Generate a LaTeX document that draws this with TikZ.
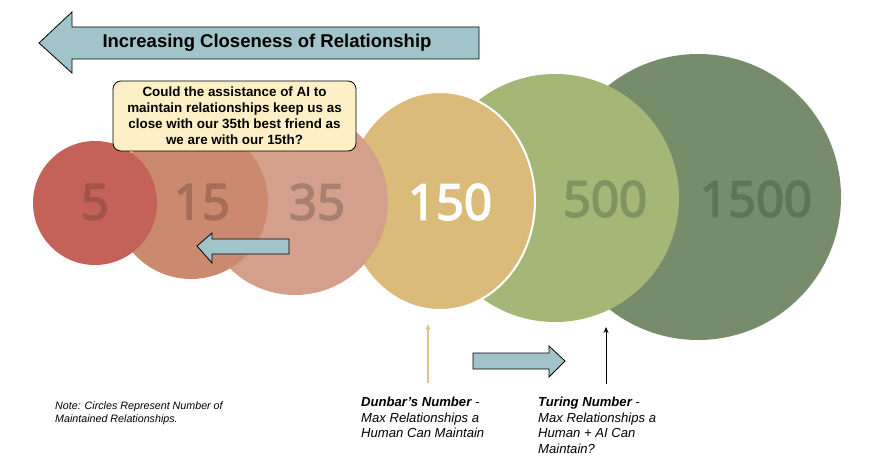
\documentclass[tikz,border=0pt]{standalone}
\usepackage{fontspec}
\setmainfont{Liberation Sans}
\newfontfamily\numfont[FakeBold=3.6]{Open Sans}
\usetikzlibrary{shapes.geometric,arrows.meta}
\definecolor{cfive}{HTML}{C4625A}
\definecolor{cfifteen}{HTML}{CB8A70}
\definecolor{cthirtyfive}{HTML}{D4A08C}
\definecolor{conefifty}{HTML}{DBBB7A}
\definecolor{cfivehundred}{HTML}{A5B777}
\definecolor{conefivehundred}{HTML}{768C6B}
\definecolor{tfive}{HTML}{A5524A}
\definecolor{tfifteen}{HTML}{A56E58}
\definecolor{tthirtyfive}{HTML}{A98070}
\definecolor{tfivehundred}{HTML}{7F9460}
\definecolor{tonefivehundred}{HTML}{5F7654}
\definecolor{arrowfill}{HTML}{A0C4C9}
\definecolor{calloutfill}{HTML}{FDF0C6}
\definecolor{dunbarcol}{HTML}{E6BE8C}
\tikzset{
  ring/.style={circle,inner sep=0pt,draw=none},
  numlabel/.style={font=\numfont\fontsize{49}{55}\selectfont,inner sep=0pt},
  blockarrow/.style={draw=black,line width=0.8pt,fill=arrowfill,line join=miter},
  bodytext/.style={font=\itshape\fontsize{13.1}{15.5}\selectfont,align=left,inner sep=0pt,anchor=north west},
  pointer/.style={line width=1.1pt,-{Stealth[length=6pt,width=5pt]}}
}
\begin{document}
\begin{tikzpicture}[x=1pt,y=-1pt]
\useasboundingbox (0,0) rectangle (877,470);
% circles, back to front
\node[ring,fill=conefivehundred,minimum size=286pt] (c1500) at (698,197) {};
\node[ring,fill=cfivehundred,minimum size=248pt] (c500) at (555,198) {};
\node[ellipse,inner sep=0pt,fill=conefifty,draw=white,line width=2pt,minimum width=190pt,minimum height=218pt] (c150) at (440,201) {};
\node[ring,fill=cthirtyfive,minimum size=186pt] (c35) at (295,202) {};
\node[ring,fill=cfifteen,minimum size=154pt] (c15) at (191,202) {};
\node[ring,fill=cfive,minimum size=124pt] (c5) at (95,203) {};
% numbers
\node[numlabel,text=tfive] (n5) at (95,202) {5};
\node[numlabel,text=tfifteen] (n15) at (202,202) {15};
\node[numlabel,text=tthirtyfive] (n35) at (317,202) {35};
\node[numlabel,text=white] (n150) at (450,202) {150};
\node[numlabel,text=tfivehundred] (n500) at (605,199) {500};
\node[numlabel,text=tonefivehundred] (n1500) at (756,199) {1500};
% top arrow
\draw[blockarrow] (39,43) -- (72,12) -- (72,27) -- (479,27) -- (479,59) -- (72,59) -- (72,73) -- cycle;
\node[font=\bfseries\fontsize{18.5}{22}\selectfont,inner sep=0pt] (title) at (267,43) {Increasing Closeness of Relationship};
% callout
\node[draw=black,line width=0.8pt,fill=calloutfill,rounded corners=8pt,minimum width=243pt,minimum height=70pt,align=center,inner sep=0pt,font=\bfseries\fontsize{13.4}{16}\selectfont] (callout) at (234.5,116)
{Could the assistance of AI to\\maintain relationships keep us as\\close with our 35th best friend as\\we are with our 15th?};
% middle left arrow
\draw[blockarrow] (197,246) -- (212,233) -- (212,239) -- (289,239) -- (289,254) -- (212,254) -- (212,263) -- cycle;
% right arrow
\draw[blockarrow] (565,361) -- (549,346) -- (549,353) -- (473,353) -- (473,369) -- (549,369) -- (549,377) -- cycle;
% pointers
\coordinate (dtail) at (428,383);
\coordinate (dtip) at (428,324);
\coordinate (ttail) at (606,384);
\coordinate (ttip) at (606,327);
\draw[pointer,draw=dunbarcol] (dtail) -- (dtip);
\draw[pointer,draw=black,line width=0.9pt] (ttail) -- (ttip);
% texts
\node[bodytext] (dunbar) at (361,397) {\textbf{Dunbar’s Number} -\\Max Relationships a\\Human Can Maintain};
\node[bodytext] (turing) at (538,397) {\textbf{Turing Number} -\\Max Relationships a\\Human + AI Can\\Maintain?};
\node[bodytext,font=\itshape\fontsize{10.7}{12.5}\selectfont] (note) at (55,402) {Note: Circles Represent Number of\\Maintained Relationships.};
\end{tikzpicture}
\end{document}
